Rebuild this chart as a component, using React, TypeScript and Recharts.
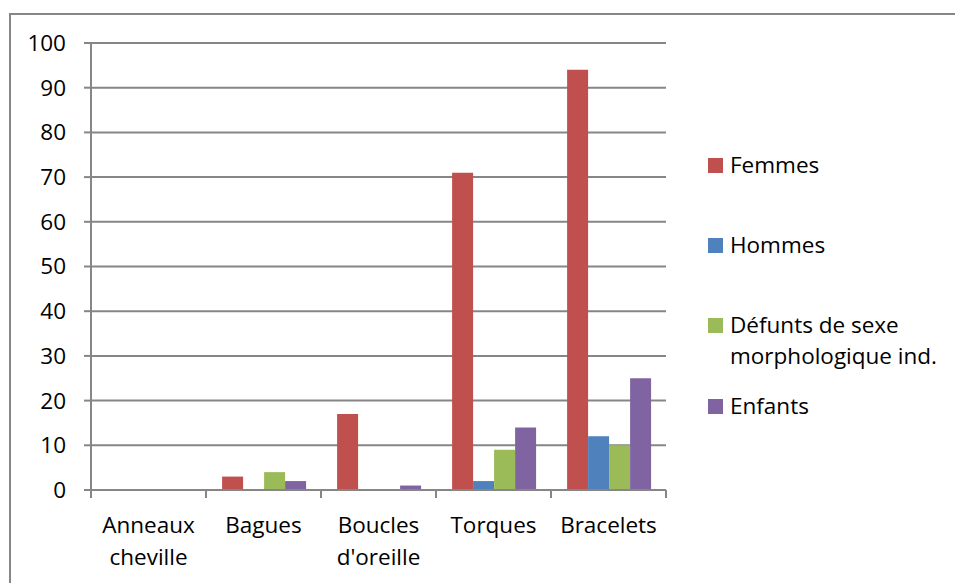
import React from "react";
import { BarChart, Bar, XAxis, YAxis, CartesianGrid } from "recharts";

const categories = ["Anneaux cheville", "Bagues", "Boucles d'oreille", "Torques", "Bracelets"];
const categoryLines = [["Anneaux", "cheville"], ["Bagues"], ["Boucles", "d'oreille"], ["Torques"], ["Bracelets"]];
const seriesNames = ["Femmes", "Hommes", "Défunts de sexe morphologique ind.", "Enfants"];
const seriesKeys = ["femmes", "hommes", "defunts", "enfants"];
const seriesColors = ["#C0504D", "#4F81BD", "#9BBB59", "#8064A2"];
const femmes = [0, 3, 17, 71, 94];
const hommes = [0, 0, 0, 2, 12];
const defunts = [0, 4, 0, 9, 10];
const enfants = [0, 2, 1, 14, 25];
const yTicks = [0, 10, 20, 30, 40, 50, 60, 70, 80, 90, 100];

const data = categories.map((c, i) => ({
  cat: c,
  femmes: femmes[i],
  hommes: hommes[i],
  defunts: defunts[i],
  enfants: enfants[i],
}));

const FONT = "'Open Sans', sans-serif";
const GRAY = "#868686";
const FS = 22.5;

const CatTick = (props: any) => {
  const { x, y, index, payload } = props;
  const lines = categoryLines[index] || [payload.value];
  const half = payload && typeof payload.offset === "number" ? payload.offset : 0;
  const isLast = index === categories.length - 1;
  return (
    <g>
      <line x1={x - half} x2={x - half} y1={y} y2={y + 8} stroke={GRAY} strokeWidth={2} />
      {isLast && <line x1={x + half} x2={x + half} y1={y} y2={y + 8} stroke={GRAY} strokeWidth={2} />}
      <text x={x} y={y + 43} textAnchor="middle" fontFamily={FONT} fontSize={FS} fill="#000">
        {lines.map((l: string, i: number) => (
          <tspan key={i} x={x} dy={i === 0 ? 0 : 32}>
            {l}
          </tspan>
        ))}
      </text>
    </g>
  );
};

const legendTops = [149, 229, 309, 390];

export default function App() {
  return (
    <div style={{ position: "absolute", left: 0, top: 0, width: 955, height: 583, background: "#fff", overflow: "hidden" }}>
      <div
        style={{
          position: "absolute",
          left: 9,
          top: 13,
          width: 1000,
          height: 1000,
          borderTop: `2px solid ${GRAY}`,
          borderLeft: `2px solid ${GRAY}`,
        }}
      />
      <div style={{ position: "absolute", left: 0, top: 0 }}>
        <BarChart
          width={955}
          height={583}
          data={data}
          margin={{ top: 43, right: 289, bottom: 0, left: 0 }}
          barCategoryGap="14%"
          barGap={0}
        >
          <CartesianGrid vertical={false} stroke={GRAY} strokeWidth={2} />
          <XAxis
            dataKey="cat"
            height={93}
            axisLine={{ stroke: GRAY, strokeWidth: 2 }}
            tickLine={false}
            tickSize={0}
            tickMargin={0}
            interval={0}
            tick={<CatTick />}
          />
          <YAxis
            width={91}
            domain={[0, 100]}
            ticks={yTicks}
            interval={0}
            axisLine={{ stroke: GRAY, strokeWidth: 2 }}
            tickLine={{ stroke: GRAY, strokeWidth: 2 }}
            tickSize={7}
            tickMargin={18}
            tick={{ fontFamily: FONT, fontSize: FS, fill: "#000" }}
          />
          {seriesKeys.map((k, i) => (
            <Bar key={k} dataKey={k} name={seriesNames[i]} fill={seriesColors[i]} isAnimationActive={false} />
          ))}
        </BarChart>
      </div>
      {seriesNames.map((n, i) => (
        <div
          key={n}
          style={{
            position: "absolute",
            left: 708,
            top: legendTops[i],
            width: 240,
            fontFamily: FONT,
            fontSize: FS,
            lineHeight: "31px",
            color: "#000",
          }}
        >
          <div
            style={{
              position: "absolute",
              left: 0,
              top: 9,
              width: 15,
              height: 15,
              background: seriesColors[i],
            }}
          />
          <div style={{ marginLeft: 22, width: 225 }}>{n}</div>
        </div>
      ))}
    </div>
  );
}
